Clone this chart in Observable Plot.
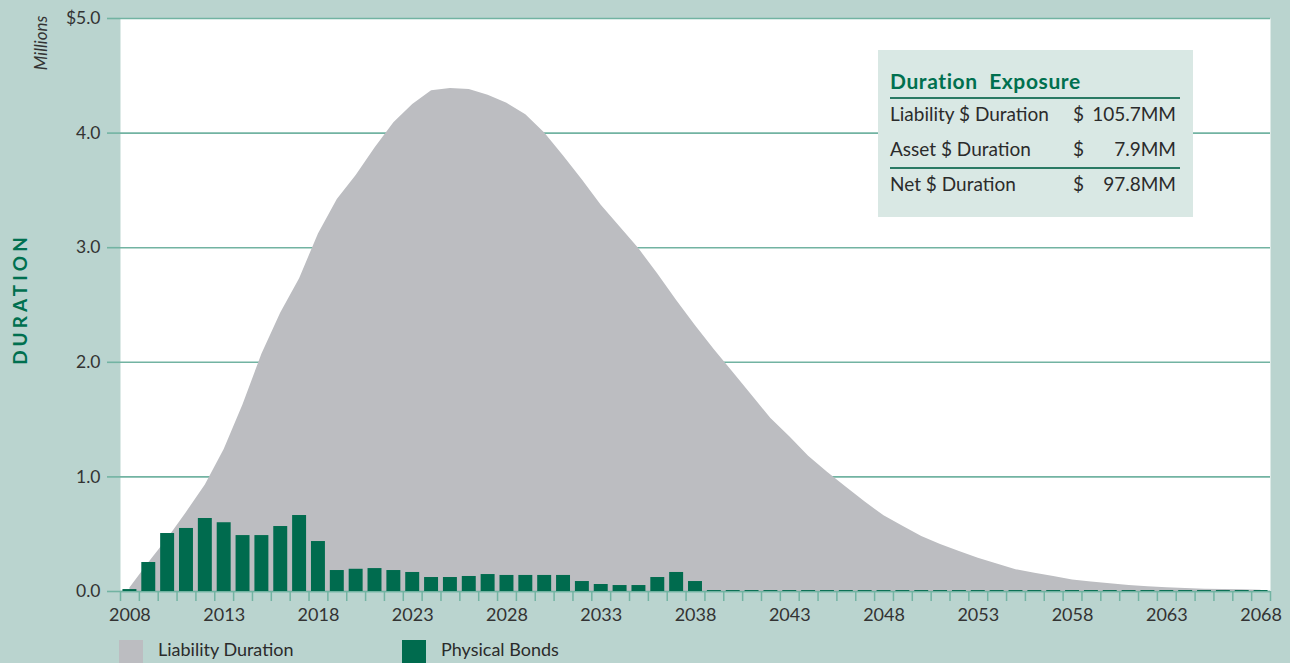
<!DOCTYPE html>
<html>
<head>
<meta charset="utf-8">
<script src="https://cdn.jsdelivr.net/npm/d3@7"></script>
<script src="https://cdn.jsdelivr.net/npm/@observablehq/plot@0.6"></script>
<style>
  html, body { margin: 0; padding: 0; }
  body { width: 1290px; height: 663px; overflow: hidden; position: relative; background: #bad4cf; font-family: Lato, "Open Sans", sans-serif; color: #2b2b2b; }
  #chart { position: absolute; left: 0; top: 0; }
  .rot { position: absolute; white-space: nowrap; transform: translate(-50%, -50%) rotate(-90deg); line-height: 1; }
  #box { position: absolute; left: 878px; top: 50px; width: 315px; height: 167px; background: #d9e8e4; }
  #box div { position: absolute; line-height: 1; white-space: nowrap; }
  .row { font-size: 19px; color: #2b2b2b; }
  .rule { height: 2px; background: #2a7a64; left: 12px; width: 290px; }
  .leg { position: absolute; top: 640px; width: 24px; height: 24px; }
  .legt { position: absolute; top: 640px; font-size: 18px; line-height: 1; color: #2b2b2b; white-space: nowrap; }
</style>
</head>
<body>
<div id="chart"></div>
<div class="rot" style="left:40px; top:43px; font-size:17px; font-style:italic; color:#333;">Millions</div>
<div class="rot" style="left:19px; top:299px; font-size:19px; font-weight:bold; letter-spacing:4px; color:#00704f;">DURATION</div>
<div id="box"></div>
<div id="legend"></div>
<script>
// ---- data ----
const years = d3.range(2008, 2069);
const liabilityValues = [
  0.03, 0.25, 0.46, 0.69, 0.93, 1.24, 1.63, 2.07, 2.43, 2.73,
  3.12, 3.42, 3.63, 3.87, 4.09, 4.25, 4.37, 4.39, 4.38, 4.33,
  4.26, 4.16, 4.00, 3.80, 3.59, 3.37, 3.18, 2.99, 2.77, 2.54,
  2.32, 2.11, 1.91, 1.71, 1.51, 1.35, 1.18, 1.04, 0.91, 0.78,
  0.66, 0.57, 0.48, 0.41, 0.35, 0.29, 0.24, 0.19, 0.16, 0.13,
  0.10, 0.083, 0.067, 0.053, 0.042, 0.033, 0.026, 0.020, 0.018, 0.016, 0.012
];
const bondValues = [
  0.017, 0.253, 0.506, 0.55, 0.637, 0.60, 0.488, 0.488, 0.567, 0.663,
  0.436, 0.183, 0.194, 0.20, 0.183, 0.166, 0.122, 0.122, 0.131, 0.148,
  0.14, 0.14, 0.14, 0.14, 0.087, 0.061, 0.052, 0.052, 0.122, 0.166,
  0.087, 0.008, 0.008, 0.008, 0.008, 0.008, 0.008, 0.008, 0.008, 0.008,
  0.008, 0.008, 0.008, 0.008, 0.008, 0.008, 0.008, 0.008, 0.008, 0.008,
  0.008, 0.008, 0.008, 0.008, 0.008, 0.008, 0.008, 0.008, 0.008, 0.008, 0.008
];
const yTicks = [0, 1, 2, 3, 4, 5];
const xLabelYears = [2008, 2013, 2018, 2023, 2028, 2033, 2038, 2043, 2048, 2053, 2058, 2063, 2068];
const tableTitle = "Duration\u00a0\u00a0Exposure";
const tableLabels = ["Liability $ Duration", "Asset $ Duration", "Net $ Duration"];
const tableValues = ["105.7MM", "7.9MM", "97.8MM"];
const legendLabels = ["Liability Duration", "Physical Bonds"];

// ---- colours ----
const gray = "#bcbdc1", green = "#006b4e", teal = "#72b3a2";

const liability = years.map((year, i) => ({year, value: liabilityValues[i]}));
const bonds = years.map((year, i) => ({year, value: bondValues[i]}));
const boundaries = [...years.map(y => y - 0.5), years[years.length - 1] + 0.5];

const chart = Plot.plot({
  width: 1290,
  height: 630,
  marginLeft: 120,
  marginRight: 20,
  marginTop: 18,
  marginBottom: 39,
  x: {type: "linear", domain: [2007.5, 2068.5]},
  y: {domain: [0, 5]},
  style: {background: "transparent", fontFamily: "Lato, 'Open Sans', sans-serif", fontSize: "17px", color: "#333"},
  marks: [
    Plot.frame({fill: "white", stroke: "none"}),
    Plot.gridY(yTicks, {stroke: teal, strokeOpacity: 1, strokeWidth: 1.6}),
    Plot.areaY(liability, {x: "year", y: "value", fill: gray, curve: "linear"}),
    Plot.ruleY([0], {stroke: teal, strokeWidth: 1.6}),
    Plot.rectY(bonds, {x1: d => d.year - 0.37, x2: d => d.year + 0.37, y: "value", fill: green}),
    Plot.axisY(yTicks, {tickSize: 13, tickPadding: 7, stroke: teal, strokeWidth: 1.6, fill: "#333", fontSize: 17.5,
      tickFormat: d => d === 5 ? "$5.0" : d.toFixed(1), label: null}),
    Plot.axisX(boundaries, {tickSize: 10, stroke: teal, strokeWidth: 1.5, tickFormat: () => "", label: null}),
    Plot.axisX(xLabelYears, {tickSize: 0, tickPadding: 16.5, fill: "#333", fontSize: 18, tickFormat: d => String(d), label: null})
  ]
});
document.getElementById("chart").appendChild(chart);

// ---- table box ----
const box = document.getElementById("box");
function add(html, style, cls) {
  const d = document.createElement("div");
  if (cls) d.className = cls;
  d.innerHTML = html;
  Object.assign(d.style, style);
  box.appendChild(d);
}
add(tableTitle, {left: "12px", top: "20px", fontSize: "21px", fontWeight: "bold", color: "#00704f", letterSpacing: "0.6px"});
add("", {top: "47px"}, "rule");
add("", {top: "117px"}, "rule");
const rowTops = [54, 89, 124];
tableLabels.forEach((t, i) => {
  add(t, {left: "12px", top: rowTops[i] + "px"}, "row");
  add("$", {left: "195px", top: rowTops[i] + "px"}, "row");
  add(tableValues[i], {right: "17px", top: rowTops[i] + "px"}, "row");
});

// ---- legend ----
const legend = document.getElementById("legend");
const legColors = [gray, green];
const legX = [119, 402];
legendLabels.forEach((t, i) => {
  const s = document.createElement("div");
  s.className = "leg";
  s.style.left = legX[i] + "px";
  s.style.background = legColors[i];
  legend.appendChild(s);
  const l = document.createElement("div");
  l.className = "legt";
  l.style.left = (legX[i] + 39) + "px";
  l.style.top = "640px";
  l.textContent = t;
  legend.appendChild(l);
});
</script>
</body>
</html>
